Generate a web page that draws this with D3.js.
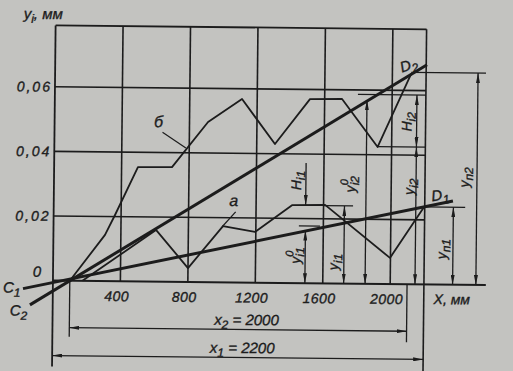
<!DOCTYPE html>
<html>
<head>
<meta charset="utf-8">
<script src="https://cdn.jsdelivr.net/npm/d3@7"></script>
<style>
  body { margin: 0; background: #c3c3c0; }
  svg { display: block; }
  text { font-family: "Liberation Sans", "DejaVu Sans", sans-serif; font-style: italic; fill: #1c1c1c;
         stroke: #1c1c1c; stroke-width: 0.35px; }
</style>
</head>
<body>
<svg id="chart" width="513" height="371"></svg>
<script>
// grid / ticks
const xTicks = [400, 800, 1200, 1600, 2000]
const yTicks = [0.02, 0.04, 0.06]
const xMax = 2200
const yMax = 0.079

// profile curves (x in mm, y in mm)
const curveB = [[100, 0], [306, 0.0143], [364, 0.0205], [497, 0.0354], [699, 0.0355], [910, 0.0496],
  [1110, 0.0568], [1308, 0.0430], [1513, 0.0570], [1702, 0.0572], [1917, 0.0424], [2112, 0.0652]]
const curveA = [[175, 0], [608, 0.0160], [800, 0.0043], [1005, 0.0174], [1195, 0.0157],
  [1413, 0.0241], [1609, 0.0243], [1997, 0.0081], [2196, 0.0240]]

// adjacent straight lines C1D1, C2D2
const lineC1D1 = [[-177, -0.0026], [2367, 0.0259]]
const lineC2D2 = [[-135, -0.0076], [2205, 0.0680]]

// vertical dimension arrows: x, from, to, heads
const dimX = [1494, 1494, 1724, 1851, 2147, 2147, 2370, 2508]
const dimFrom = [0.0372, 0, 0, 0, 0.0425, 0, 0, 0]
const dimTo = [0.0242, 0.0163, 0.0240, 0.0568, 0.0586, 0.0425, 0.0240, 0.0656]
const dimHeads = ["end", "both", "both", "both", "both", "both", "both", "both"]

// horizontal extension lines: x0, x1, y
const extX0 = [1455, 1600, 1797, 1917, 2196, 2112]
const extX1 = [1580, 1775, 2200, 2200, 2440, 2555]
const extY = [0.0177, 0.0241, 0.0586, 0.0425, 0.0240, 0.0656]

// base lengths
const x2Span = [100, 2100]
const x1Span = [0, 2200]

const svg = d3.select("#chart")
const ink = "#1c1c1c"

const x = d3.scaleLinear().domain([0, xMax]).range([54, 425])
const y = d3.scaleLinear().domain([0, 0.06]).range([282.5, 88.7])

const defs = svg.append("defs")
defs.append("marker")
    .attr("id", "arr")
    .attr("viewBox", "0 0 10 4")
    .attr("refX", 10).attr("refY", 2)
    .attr("markerWidth", 10).attr("markerHeight", 4)
    .attr("markerUnits", "userSpaceOnUse")
    .attr("orient", "auto-start-reverse")
    .append("path").attr("d", "M0,0 L10,2 L0,4 Z").attr("fill", ink)

svg.append("rect").attr("width", 513).attr("height", 371).attr("fill", "#c3c3c0")

// scan is a bit skewed
const g = svg.append("g").attr("transform", "rotate(0.6,240,180)")

// grid
g.selectAll(".vgrid")
    .data(xTicks)
    .enter()
    .append("line")
    .attr("x1", d => x(d)).attr("x2", d => x(d))
    .attr("y1", y(0)).attr("y2", y(yMax))
    .attr("stroke", ink).attr("stroke-width", 1.6)

g.selectAll(".hgrid")
    .data(yTicks)
    .enter()
    .append("line")
    .attr("x1", x(0)).attr("x2", x(xMax))
    .attr("y1", d => y(d)).attr("y2", d => y(d))
    .attr("stroke", ink).attr("stroke-width", 1.6)

// frame: top, left and right go down into the dimension area
g.append("line").attr("x1", x(0)).attr("x2", x(xMax)).attr("y1", y(yMax)).attr("y2", y(yMax))
    .attr("stroke", ink).attr("stroke-width", 1.8)
g.append("line").attr("x1", x(0)).attr("x2", x(0)).attr("y1", y(yMax)).attr("y2", y(0) + 86)
    .attr("stroke", ink).attr("stroke-width", 1.8)
g.append("line").attr("x1", x(xMax)).attr("x2", x(xMax)).attr("y1", y(yMax)).attr("y2", y(0) + 92)
    .attr("stroke", ink).attr("stroke-width", 1.6)
// x axis
g.append("line").attr("x1", x(0)).attr("x2", x(2567)).attr("y1", y(0)).attr("y2", y(0))
    .attr("stroke", ink).attr("stroke-width", 2)

// tick labels
const xAxis = g.append("g")
    .attr("transform", `translate(0,${y(0)})`)
    .call(d3.axisBottom(x).tickValues(xTicks).tickSize(0).tickPadding(10).tickFormat(d => d))
xAxis.select(".domain").remove()
xAxis.selectAll("text").attr("dx", -4).style("font-size", "14px").style("letter-spacing", "0.5px")
    .style("font-family", null).attr("fill", ink)

const yAxis = g.append("g")
    .attr("transform", `translate(${x(0)},0)`)
    .call(d3.axisLeft(y).tickValues(yTicks).tickSize(0).tickPadding(3)
        .tickFormat(d => d3.format(".2f")(d).replace(".", ",")))
yAxis.select(".domain").remove()
yAxis.selectAll("text").style("font-size", "14px").style("letter-spacing", "2px")
    .style("font-family", null).attr("fill", ink)

const line = d3.line().x(d => x(d[0])).y(d => y(d[1]))

// straight lines C1D1 and C2D2
g.append("path").attr("d", line(lineC1D1)).attr("fill", "none")
    .attr("stroke", ink).attr("stroke-width", 3)
g.append("path").attr("d", line(lineC2D2)).attr("fill", "none")
    .attr("stroke", ink).attr("stroke-width", 3)

// profiles
g.append("path").attr("d", line(curveB)).attr("fill", "none")
    .attr("stroke", ink).attr("stroke-width", 1.8).attr("stroke-linejoin", "round")
g.append("path").attr("d", line(curveA)).attr("fill", "none")
    .attr("stroke", ink).attr("stroke-width", 1.8).attr("stroke-linejoin", "round")

// extension lines
g.selectAll(".ext")
    .data(extY)
    .enter()
    .append("line")
    .attr("x1", (d, i) => x(extX0[i])).attr("x2", (d, i) => x(extX1[i]))
    .attr("y1", d => y(d)).attr("y2", d => y(d))
    .attr("stroke", ink).attr("stroke-width", 1.2)

// vertical dimension arrows
g.selectAll(".dim")
    .data(dimX)
    .enter()
    .append("line")
    .attr("x1", d => x(d)).attr("x2", d => x(d))
    .attr("y1", (d, i) => y(dimFrom[i])).attr("y2", (d, i) => y(dimTo[i]))
    .attr("stroke", ink).attr("stroke-width", 1.3)
    .attr("marker-end", "url(#arr)")
    .attr("marker-start", (d, i) => dimHeads[i] == "both" ? "url(#arr)" : null)

// base lengths x2, x1 below the axis
const yX2 = y(0) + 47, yX1 = y(0) + 75
g.append("line").attr("x1", x(x2Span[0])).attr("x2", x(x2Span[0])).attr("y1", y(0)).attr("y2", yX2 + 9)
    .attr("stroke", ink).attr("stroke-width", 1.3)
g.append("line").attr("x1", x(x2Span[1])).attr("x2", x(x2Span[1])).attr("y1", y(0)).attr("y2", yX2 + 11)
    .attr("stroke", ink).attr("stroke-width", 1.3)
g.append("line").attr("x1", x(x2Span[0])).attr("x2", x(x2Span[1])).attr("y1", yX2).attr("y2", yX2)
    .attr("stroke", ink).attr("stroke-width", 1.3)
    .attr("marker-start", "url(#arr)").attr("marker-end", "url(#arr)")
g.append("line").attr("x1", x(x1Span[0])).attr("x2", x(x1Span[1])).attr("y1", yX1).attr("y2", yX1)
    .attr("stroke", ink).attr("stroke-width", 1.3)
    .attr("marker-start", "url(#arr)").attr("marker-end", "url(#arr)")

// leader lines for б and a
g.append("line").attr("x1", 162).attr("y1", 133).attr("x2", x(780)).attr("y2", y(0.0415))
    .attr("stroke", ink).attr("stroke-width", 1.2)
g.append("line").attr("x1", 236).attr("y1", 212).attr("x2", x(1000)).attr("y2", y(0.0172))
    .attr("stroke", ink).attr("stroke-width", 1.2)

// text helper: parts = [text, kind] where kind is "", "sub", "sup"
function label(parent, px, py, parts, opts) {
    opts = opts || {}
    const t = parent.append("text")
        .attr("transform", `translate(${px},${py})` + (opts.rot ? ` rotate(${opts.rot})` : ""))
        .attr("text-anchor", opts.anchor || "middle")
        .style("font-size", (opts.size || 15) + "px")
    let shift = 0
    parts.forEach(p => {
        const s = t.append("tspan").text(p[0])
        let target = 0
        if (p[1] == "sub") { target = 4; s.style("font-size", "12px") }
        if (p[1] == "sup") { target = -7; s.style("font-size", "11px") }
        if (target != shift) s.attr("dy", target - shift)
        if (p[2]) s.attr("dx", p[2])
        shift = target
    })
    return t
}

label(g, 22, 21, [["y", ""], ["i", "sub"], [", мм", ""]], {anchor: "start"})
label(g, 38, 279, [["0", ""]])
label(g, 13, 295, [["C", ""], ["1", "sub"]])
label(g, 20, 318, [["C", ""], ["2", "sub"]])
label(g, 453, 302, [["X, мм", ""]], {size: 14})
label(g, 158, 128, [["б", ""]], {size: 16})
label(g, 234, 206, [["a", ""]], {size: 16})
label(g, 441, 198, [["D", ""], ["1", "sub"]], {size: 15, rot: -8})
label(g, 409, 68, [["D", ""], ["2", "sub"]], {size: 15, rot: -20})

label(g, 301, 180, [["H", ""], ["i1", "sub"]], {rot: -90, size: 14})
label(g, 301, 255, [["y", ""], ["0", "sup"], ["i1", "sub", -6]], {rot: -90, size: 14})
label(g, 339, 261, [["y", ""], ["i1", "sub"]], {rot: -90, size: 14})
label(g, 355, 183, [["y", ""], ["0", "sup"], ["i2", "sub", -6]], {rot: -90, size: 14})
label(g, 411, 120, [["H", ""], ["i2", "sub"]], {rot: -90, size: 14})
label(g, 414, 185, [["y", ""], ["i2", "sub"]], {rot: -90, size: 14})
label(g, 447, 247, [["y", ""], ["п1", "sub"]], {rot: -90, size: 14})
label(g, 469, 175, [["y", ""], ["п2", "sub"]], {rot: -90, size: 14})

label(g, 248, 325, [["x", ""], ["2", "sub"], [" = 2000", ""]], {size: 15})
label(g, 244, 353, [["x", ""], ["1", "sub"], [" = 2200", ""]], {size: 15})
</script>
</body>
</html>
